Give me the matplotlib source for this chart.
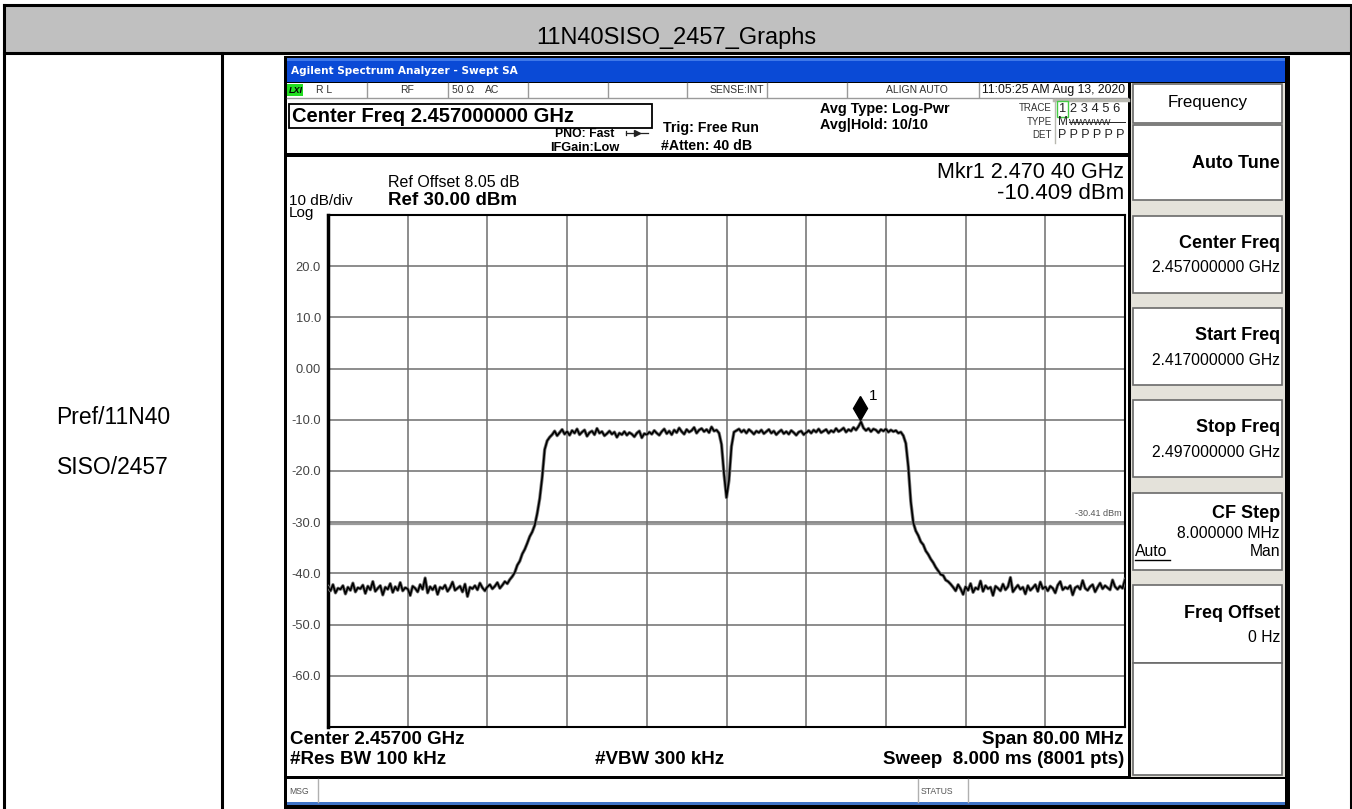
import numpy as np
import matplotlib
matplotlib.use('Agg')
import matplotlib.pyplot as plt
from matplotlib.patches import Rectangle
from matplotlib.transforms import ScaledTranslation

plt.rcParams['font.family'] = ['Liberation Sans', 'DejaVu Sans']

# sweep settings and trace values (dBm), 321 points
sweep_start = 2.417
sweep_stop = 2.497
trace_dbm = [
    # left noise floor
    -42.6, -43.4, -42.2, -43.8, -42.9, -43.1, -42.4, -44.0, -42.7, -43.3,
    -41.9, -43.6, -42.8, -43.0, -42.3, -43.9, -42.5, -43.2, -41.6, -43.5,
    -42.9, -42.4, -44.2, -42.7, -43.1, -42.0, -43.7, -42.6, -43.3, -41.8,
    -43.4, -42.8, -43.0, -44.3, -42.5, -42.9, -43.6, -42.2, -43.1, -40.9,
    -43.8, -42.6, -43.2, -42.4, -44.1, -42.7, -43.0, -42.3, -43.5, -42.8,
    -41.7, -43.3, -42.9, -42.5, -43.6, -42.1, -44.5, -42.7, -43.0, -42.4,
    -43.2, -41.9, -42.8, -43.4, -42.6, -42.2, -43.0, -42.5, -41.8, -42.9,
    # left skirt
    -42.3, -41.6, -42.0, -41.2, -40.6, -39.8, -38.4, -37.6, -36.2, -35.3,
    -34.1, -32.8, -31.9, -30.6, -28.3, -25.4, -21.2, -15.8, -14.1, -13.4,
    # left half of channel
    -12.9, -12.2, -13.1, -12.5, -11.9, -12.8, -12.3, -13.0, -12.1, -12.6,
    -11.8, -12.9, -12.4, -12.0, -13.2, -12.5, -12.2, -12.9, -11.7, -12.6,
    -12.3, -13.1, -12.7, -12.2, -12.8, -12.4, -13.4, -12.6, -12.9, -12.3,
    -13.0, -12.5, -12.8, -13.3, -12.6, -12.2, -13.5, -12.7, -12.9, -12.4,
    -12.8, -12.1, -12.6, -13.0, -12.3, -11.8, -12.7, -12.2, -12.9, -12.0,
    -12.5, -11.6, -12.3, -12.8, -11.9, -12.4, -12.1, -11.5, -12.6, -12.0,
    -11.7, -12.3, -11.9, -12.5, -11.4, -12.2, -12.0,
    # DC notch
    -12.6, -14.8, -20.6, -25.2, -21.8, -15.2, -12.4,
    # right half of channel
    -12.1, -11.8, -12.4, -12.0, -12.6, -11.9, -12.3, -12.8, -12.2, -12.5,
    -12.0, -12.7, -12.3, -11.9, -12.6, -12.2, -12.9, -12.4, -12.0, -12.7,
    -12.3, -12.8, -12.1, -12.5, -13.0, -12.4, -12.2, -12.9, -12.5, -12.1,
    -12.6, -12.0, -12.4, -11.8, -12.5, -12.2, -11.9, -12.6, -12.1, -12.4,
    -11.7, -12.3, -12.0, -11.6, -12.4, -11.9, -12.2, -11.5, -12.0, -11.3,
    -10.4, -11.6, -12.1, -11.7, -12.3, -11.8, -12.0, -12.5, -11.9, -12.2,
    -11.8, -12.4, -12.0, -12.3, -12.1, -12.6,
    # right skirt
    -12.4, -13.1, -14.6, -19.2, -26.0, -30.1, -31.7, -32.6, -33.8, -34.4,
    -35.6, -36.3, -37.2, -37.9, -38.8, -39.5, -40.2, -40.4, -41.3, -41.6, -42.1,
    # right noise floor
    -42.7, -43.4, -42.2, -43.0, -44.1, -42.6, -43.3, -42.0, -43.7, -42.8,
    -43.1, -41.5, -43.5, -42.4, -43.0, -42.7, -44.3, -42.5, -42.9, -43.4,
    -42.1, -43.2, -42.6, -40.8, -43.6, -42.9, -42.3, -43.1, -42.7, -44.0,
    -42.4, -43.3, -42.8, -42.2, -43.5, -41.7, -43.0, -42.6, -43.4, -42.5,
    -42.9, -43.8, -42.3, -41.6, -43.2, -42.7, -43.0, -42.4, -44.2, -42.8,
    -42.5, -43.1, -41.4, -42.9, -43.3, -42.6, -42.2, -43.6, -42.7, -41.9,
    -43.0, -42.4, -42.8, -43.2, -41.3, -42.6, -43.1, -42.5, -42.9, -41.2,
]
mkr_freq = 2.4704
mkr_dbm = -10.409
display_line = -30.41
y_ticks = [30, 20, 10, 0, -10, -20, -30, -40, -50, -60, -70]
y_tick_labels = ['', '20.0', '10.0', '0.00', '-10.0', '-20.0', '-30.0',
                 '-40.0', '-50.0', '-60.0', '']

softkeys = [('Center Freq', '2.457000000 GHz'), ('Start Freq', '2.417000000 GHz'),
            ('Stop Freq', '2.497000000 GHz')]

W, H = 1352, 809
fig = plt.figure(figsize=(W / 100, H / 100), dpi=100)

# pixel overlay for the table and the analyzer window
bg = fig.add_axes([0, 0, 1, 1])
bg.set_xlim(0, W)
bg.set_ylim(H, 0)
bg.axis('off')


def box(x0, y0, x1, y1, fc='white', ec='none', lw=1, z=1):
    bg.add_patch(Rectangle((x0, y0), x1 - x0, y1 - y0, facecolor=fc,
                           edgecolor=ec, linewidth=lw, zorder=z))


def txt(x, y, s, size, weight='normal', ha='left', color='black', **kw):
    bg.text(x, y, s, fontsize=size, fontweight=weight, ha=ha, va='center',
            color=color, zorder=10, **kw)


# table
box(4, 5, 1351, 53, fc='#c0c0c0')
bg.plot([4, 1351, 1351, 4, 4], [5, 5, 812, 812, 5], color='black', lw=2.2, zorder=2)
bg.plot([4, 1351], [53, 53], color='black', lw=2.2, zorder=2)
bg.plot([222, 222], [53, 812], color='black', lw=2.2, zorder=2)
txt(676, 38, '11N40SISO_2457_Graphs', 17, ha='center')
txt(113, 417, 'Pref/11N40', 16.5, ha='center')
txt(113, 467, 'SISO/2457', 16.5, ha='center')

# analyzer window frame
box(284, 56, 1290, 812, fc='black', z=2)
box(287, 58, 1285, 82, fc='#0a4ad6', z=3)
box(287, 58, 1285, 61, fc='#3f78e8', z=3)
txt(291, 71, 'Agilent Spectrum Analyzer - Swept SA', 7.6, weight='bold', color='white',
    family='DejaVu Sans')

# status row + header
box(287, 83, 1128, 153, fc='white', z=3)
box(287, 84, 303, 96, fc='#22dd22', z=4)
txt(288.5, 90, 'LXI', 6.5, weight='bold', style='italic')
for xd in [367, 448, 528, 608, 687, 767, 847, 979]:
    bg.plot([xd, xd], [83, 97], color='#9a9a9a', lw=1, zorder=4)
bg.plot([287, 1128], [97.5, 97.5], color='#9a9a9a', lw=1, zorder=4)
sc = '#333333'
txt(316, 90, 'R L', 7.5, color=sc)
txt(407, 90, 'RF', 7.5, color=sc, ha='center')
txt(463, 90, '50 Ω', 7.5, color=sc, ha='center')
txt(492, 90, 'AC', 7.5, color=sc, ha='center')
txt(764, 90, 'SENSE:INT', 7.5, color=sc, ha='right')
txt(917, 90, 'ALIGN AUTO', 7.5, color=sc, ha='center')
txt(982, 90, '11:05:25 AM Aug 13, 2020', 8.8, color='#111111')

box(289, 104, 652, 128, fc='white', ec='black', lw=1.3, z=4)
txt(292, 116.5, 'Center Freq 2.457000000 GHz', 14.5, weight='bold')
txt(614, 134, 'PNO: Fast', 8.8, weight='bold', ha='right')
bg.plot([626, 648], [133, 133], color='#222222', lw=0.9, zorder=11)
bg.plot([637], [133], marker='>', ms=4, color='#222222', zorder=11)
bg.plot([626, 626], [131, 135], color='#222222', lw=0.9, zorder=11)
txt(619, 148, 'IFGain:Low', 9.2, weight='bold', ha='right')
txt(663, 128, 'Trig: Free Run', 10.2, weight='bold')
txt(661, 146, '#Atten: 40 dB', 10.2, weight='bold')
txt(820, 109, 'Avg Type: Log-Pwr', 10.4, weight='bold')
txt(820, 125, 'Avg|Hold: 10/10', 10.4, weight='bold')

# trace block
bg.plot([1054, 1128], [99.5, 99.5], color='#b8b8b0', lw=2.5, zorder=4)
bg.plot([1055, 1055], [99, 143], color='#b8b8b0', lw=1, zorder=4)
txt(1052, 108, 'TRACE', 7, ha='right', color=sc)
txt(1052, 122, 'TYPE', 7, ha='right', color=sc)
txt(1052, 135, 'DET', 7, ha='right', color=sc)
box(1057, 101, 1068, 117, fc='white', ec='#44cc44', lw=1, z=4)
txt(1059, 109, '1 2 3 4 5 6', 9.3, color='#222222')
txt(1058, 122, 'M', 8.5, color='#222222')
txt(1069, 122, 'WWWWW', 6.5, color='#222222')
bg.plot([1069, 1125], [122, 122], color='#222222', lw=0.7, zorder=11)
txt(1058, 135, 'P P P P P P', 9, color='#222222')

# graph panel
box(287, 157, 1128, 776, fc='white', z=3)
txt(388, 182, 'Ref Offset 8.05 dB', 11.5)
txt(388, 200, 'Ref 30.00 dBm', 13.5, weight='bold')
txt(289, 201, '10 dB/div', 11)
txt(289, 213, 'Log', 11)
txt(1124, 172, 'Mkr1 2.470 40 GHz', 15.5, ha='right')
txt(1124, 193, '-10.409 dBm', 16, ha='right')
txt(290, 740, 'Center 2.45700 GHz', 13.5, weight='bold')
txt(290, 760, '#Res BW 100 kHz', 13.5, weight='bold')
txt(595, 760, '#VBW 300 kHz', 13.5, weight='bold')
txt(1124, 740, 'Span 80.00 MHz', 13.5, weight='bold', ha='right')
txt(1124, 760, 'Sweep  8.000 ms (8001 pts)', 13.5, weight='bold', ha='right')

# message row
box(287, 779, 1285, 802, fc='white', z=3)
box(287, 802, 1285, 805, fc='#3f74c8', z=3)
bg.plot([318, 318], [779, 802], color='#b0b0b0', lw=1, zorder=4)
bg.plot([918, 918], [779, 802], color='#b0b0b0', lw=1, zorder=4)
bg.plot([968, 968], [779, 802], color='#b0b0b0', lw=1, zorder=4)
txt(289, 791, 'MSG', 6.2, color='#555555')
txt(921, 791, 'STATUS', 6.2, color='#555555')

# softkey panel
box(1131, 83, 1285, 777, fc='#e4e2da', z=3)
kx0, kx1 = 1133, 1282
box(kx0, 84, kx1, 123, ec='#6a6a6a', lw=1.2, z=4)
txt(1208, 102, 'Frequency', 12.2, ha='center')
box(kx0, 125, kx1, 200, ec='#6a6a6a', lw=1.2, z=4)
txt(1280, 163, 'Auto Tune', 13, weight='bold', ha='right')
for (label, value), y0 in zip(softkeys, [216, 308, 400]):
    box(kx0, y0, kx1, y0 + 77, ec='#6a6a6a', lw=1.2, z=4)
    txt(1280, y0 + 27, label, 13, weight='bold', ha='right')
    txt(1280, y0 + 52, value, 11.3, ha='right')
box(kx0, 493, kx1, 570, ec='#6a6a6a', lw=1.2, z=4)
txt(1280, 513, 'CF Step', 13, weight='bold', ha='right')
txt(1280, 533, '8.000000 MHz', 11.3, ha='right')
txt(1135, 552, 'Auto', 11.3)
bg.plot([1135, 1170], [560, 560], color='black', lw=1, zorder=11)
txt(1280, 552, 'Man', 11.3, ha='right')
box(kx0, 585, kx1, 663, ec='#6a6a6a', lw=1.2, z=4)
txt(1280, 613, 'Freq Offset', 13, weight='bold', ha='right')
txt(1280, 638, '0 Hz', 11.3, ha='right')
box(kx0, 663, kx1, 775, ec='#6a6a6a', lw=1.2, z=4)

# spectrum graticule
gx0, gx1, gy0, gy1 = 328, 1125, 215, 727
ax = fig.add_axes([gx0 / W, 1 - gy1 / H, (gx1 - gx0) / W, (gy1 - gy0) / H])
ax.set_zorder(5)
ax.set_facecolor('white')
freqs = np.linspace(sweep_start, sweep_stop, len(trace_dbm))
ax.set_xlim(sweep_start, sweep_stop)
ax.set_ylim(y_ticks[-1], y_ticks[0])
ax.set_xticks(np.linspace(sweep_start, sweep_stop, 11))
ax.set_xticklabels([])
ax.set_yticks(y_ticks, y_tick_labels)
ax.tick_params(length=0, labelsize=9.3, labelcolor='#444444', pad=5)
ax.grid(True, color='#6e6e6e', lw=1.1)
ax.axhline(display_line, color='#9a9a9a', lw=1.6, zorder=1)
ax.text(sweep_stop - 0.0003, display_line + 1.2, '%.2f dBm' % display_line,
        fontsize=6.5, color='#555555', ha='right', va='bottom')
for sp in ax.spines.values():
    sp.set_color('black')
    sp.set_linewidth(1.5)
ax.spines['left'].set_linewidth(2.5)
ax.plot(freqs, trace_dbm, color='#7a7a7a', lw=2.4, zorder=3)
ax.plot(freqs, trace_dbm, color='black', lw=1.2, zorder=3)

# marker 1 diamond sits above the trace point
lift = ScaledTranslation(0, 14 / 100, fig.dpi_scale_trans)
ax.plot([mkr_freq], [mkr_dbm], marker='d', ms=12.7, color='black',
        transform=ax.transData + lift, zorder=4, clip_on=False)
ax.text(mkr_freq, mkr_dbm, '1', fontsize=11, ha='left', va='center',
        transform=ax.transData + ScaledTranslation(9 / 100, 26 / 100, fig.dpi_scale_trans))

fig.savefig('out.png', dpi=100)
